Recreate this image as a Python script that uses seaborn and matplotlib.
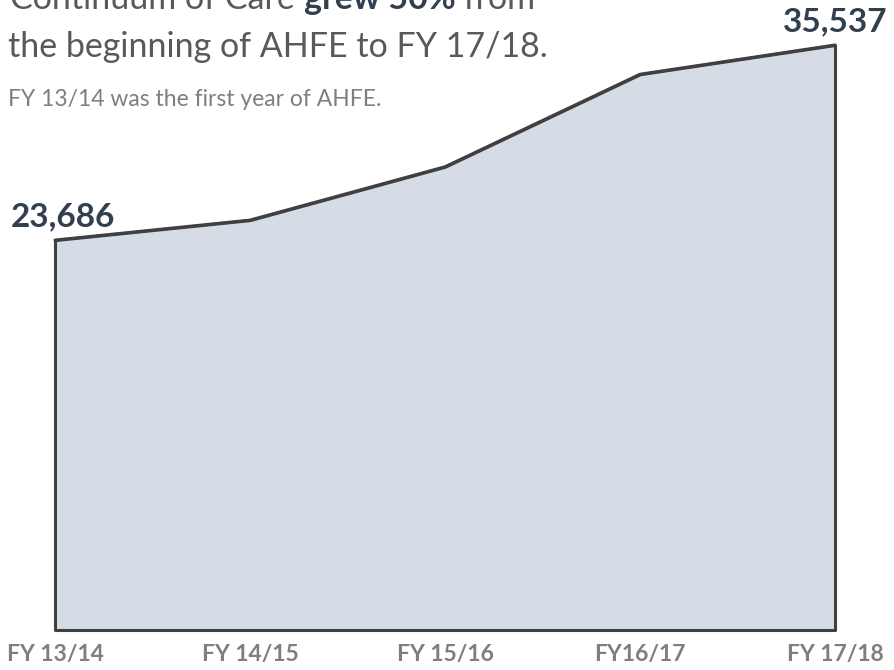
import matplotlib
matplotlib.use("Agg")
import matplotlib.pyplot as plt
import seaborn as sns
import pandas as pd

# Continuum of Care totals per fiscal year
years = ['FY 13/14', 'FY 14/15', 'FY 15/16', 'FY16/17', 'FY 17/18']
served = [23686, 24900, 28140, 33760, 35537]

df = pd.DataFrame({'pos': range(len(years)), 'served': served})

sns.set_theme(style='white')
plt.rcParams['font.family'] = ['Lato', 'DejaVu Sans']

fig = plt.figure(figsize=(8.94, 6.70), dpi=100)
W, H = 894, 670
ax = fig.add_axes([55 / W, 1 - 630 / H, (835 - 55) / W, (630 - 45) / H])

ax.fill_between(df['pos'], 0, df['served'], facecolor='#D6DCE5',
                edgecolor='#404040', linewidth=2.2, clip_on=False)
sns.lineplot(data=df, x='pos', y='served', color='#404040', linewidth=2.2, ax=ax)
for l in ax.lines:
    l.set_clip_on(False)

ax.set_xlim(0, len(years) - 1)
ax.set_ylim(0, max(served))
ax.set_xticks(df['pos'])
ax.set_xticklabels(years, fontsize=16.5, fontweight='bold', color='#7F7F7F')
ax.tick_params(axis='x', length=0, pad=10)
ax.set_yticks([])
ax.set_xlabel('')
ax.set_ylabel('')
sns.despine(ax=ax, left=True, bottom=True)

navy = '#323F4F'
ax.annotate(f'{served[0]:,}', (0, served[0]), xytext=(8, 14), textcoords='offset pixels',
            ha='center', va='baseline', fontsize=24, fontweight='bold', color=navy,
            annotation_clip=False)
ax.annotate(f'{served[-1]:,}', (len(years) - 1, served[-1]), xytext=(0, 14),
            textcoords='offset pixels', ha='center', va='baseline', fontsize=24,
            fontweight='bold', color=navy, annotation_clip=False)

# title, first line is partly cut off at the top (as in the original)
grey = '#595959'
r = fig.canvas.get_renderer()
x0 = 10 / W
y1 = 1 - 9 / H
parts = [('Continuum of Care ', 'normal', grey), ('grew 50%', 'bold', navy), (' from', 'normal', grey)]
for txt, wt, col in parts:
    t = fig.text(x0, y1, txt, fontsize=24.5, fontweight=wt, color=col, va='baseline', ha='left')
    x0 += t.get_window_extent(renderer=r).width / W
fig.text(8 / W, 1 - 57 / H, 'the beginning of AHFE to FY 17/18.', fontsize=24.5,
         color=grey, va='baseline', ha='left')
fig.text(8 / W, 1 - 106 / H, 'FY 13/14 was the first year of AHFE.', fontsize=16.5,
         color='#7F7F7F', va='baseline', ha='left')

fig.savefig('out.png', dpi=100, facecolor='white')
